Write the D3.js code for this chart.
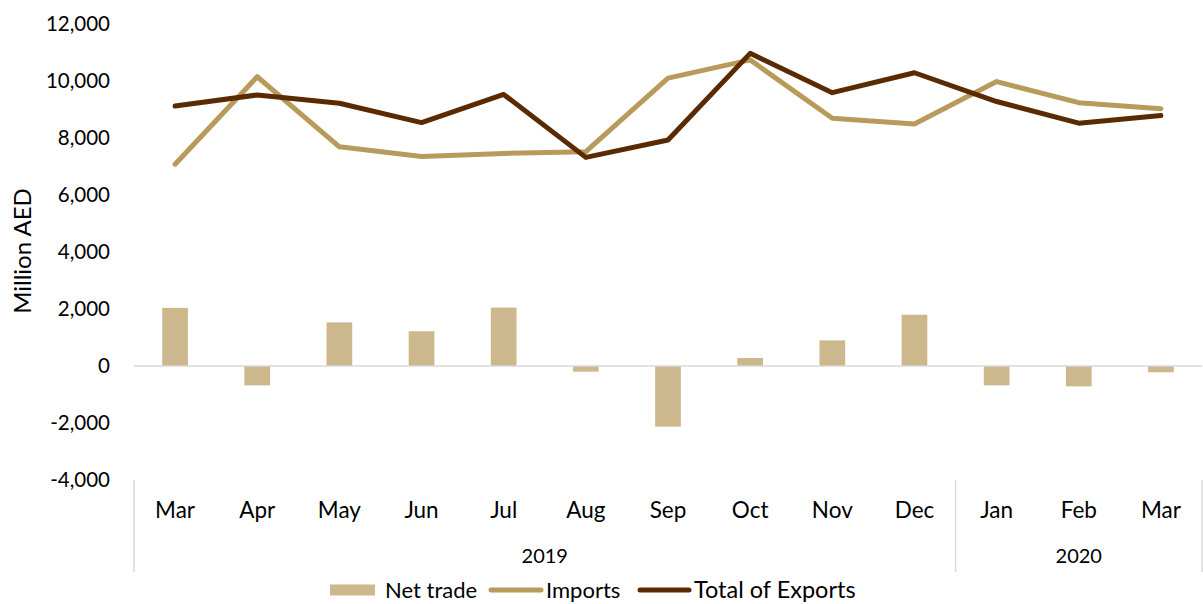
<!DOCTYPE html>
<html>
<head>
<meta charset="utf-8">
<script src="https://cdn.jsdelivr.net/npm/d3@7"></script>
<style>
  body { margin: 0; background: #fff; }
  text { font-family: Lato, "Noto Sans", sans-serif; fill: #000; }
</style>
</head>
<body>
<div id="chart"></div>
<script>
// months shown on the category axis (two levels: month, year)
const months = ["Mar", "Apr", "May", "Jun", "Jul", "Aug", "Sep", "Oct", "Nov", "Dec", "Jan", "Feb", "Mar"];
const years = [
  { label: "2019", from: 0, to: 9 },
  { label: "2020", from: 10, to: 12 },
];

// values in million AED
const netTrade = [2040, -680, 1530, 1220, 2050, -200, -2130, 280, 900, 1800, -680, -715, -220];
const imports = [7080, 10150, 7690, 7350, 7460, 7520, 10100, 10740, 8690, 8490, 9980, 9240, 9030];
const exportsTotal = [9120, 9510, 9220, 8540, 9530, 7320, 7930, 10970, 9590, 10290, 9280, 8520, 8790];

const yTicks = [-4000, -2000, 0, 2000, 4000, 6000, 8000, 10000, 12000];

const width = 1203, height = 604;
const margin = { top: 24, right: 1, bottom: 124, left: 134 };

const colors = { net: "#cdb88e", imports: "#b89a5a", exports: "#5a2a02", grid: "#d9d9d9" };

// hyphen minus like the original, not the unicode minus
const fmt = d3.formatLocale({ decimal: ".", thousands: ",", grouping: [3], currency: ["", ""], minus: "-" }).format(",");

const svg = d3.select("#chart").append("svg")
  .attr("width", width)
  .attr("height", height);

const x = d3.scaleBand()
  .domain(d3.range(months.length))
  .range([margin.left, width - margin.right])
  .padding(0);

const y = d3.scaleLinear()
  .domain([-4000, 12000])
  .range([height - margin.bottom, margin.top]);

// y tick labels (no axis line, no gridlines)
svg.append("g")
  .selectAll("text")
  .data(yTicks)
  .join("text")
  .attr("x", 110)
  .attr("y", (d) => y(d))
  .attr("dy", "0.35em")
  .attr("text-anchor", "end")
  .attr("font-size", 20.5)
  .text((d) => fmt(d));

// y title
svg.append("text")
  .attr("transform", `translate(31,${251}) rotate(-90)`)
  .attr("text-anchor", "middle")
  .attr("font-size", 24)
  .text("Million AED");

// bars
const barW = x.bandwidth() * 0.313;
svg.append("g")
  .selectAll("rect")
  .data(netTrade)
  .join("rect")
  .attr("x", (d, i) => x(i) + (x.bandwidth() - barW) / 2)
  .attr("y", (d) => y(Math.max(0, d)))
  .attr("width", barW)
  .attr("height", (d) => Math.abs(y(d) - y(0)))
  .attr("fill", colors.net);

// zero line
svg.append("line")
  .attr("x1", margin.left)
  .attr("x2", width - margin.right)
  .attr("y1", y(0))
  .attr("y2", y(0))
  .attr("stroke", colors.grid)
  .attr("stroke-width", 1.5);

// lines
const line = d3.line()
  .x((d, i) => x(i) + x.bandwidth() / 2)
  .y((d) => y(d));

svg.append("path")
  .datum(imports)
  .attr("d", line)
  .attr("fill", "none")
  .attr("stroke", colors.imports)
  .attr("stroke-width", 5)
  .attr("stroke-linecap", "round")
  .attr("stroke-linejoin", "round");

svg.append("path")
  .datum(exportsTotal)
  .attr("d", line)
  .attr("fill", "none")
  .attr("stroke", colors.exports)
  .attr("stroke-width", 5)
  .attr("stroke-linecap", "round")
  .attr("stroke-linejoin", "round");

// category axis: month labels
const axisTop = y(-4000);
svg.append("g")
  .selectAll("text")
  .data(months)
  .join("text")
  .attr("x", (d, i) => x(i) + x.bandwidth() / 2)
  .attr("y", axisTop + 30)
  .attr("dy", "0.35em")
  .attr("text-anchor", "middle")
  .attr("font-size", 22.5)
  .text((d) => d);

// year group labels and separators
const gYears = svg.append("g");
gYears.selectAll("text")
  .data(years)
  .join("text")
  .attr("x", (d) => (x(d.from) + x(d.to) + x.bandwidth()) / 2)
  .attr("y", axisTop + 76)
  .attr("dy", "0.35em")
  .attr("text-anchor", "middle")
  .attr("font-size", 20)
  .text((d) => d.label);

const seps = [x(0)].concat(years.map((d) => x(d.to) + x.bandwidth()));
gYears.selectAll("line")
  .data(seps)
  .join("line")
  .attr("x1", (d) => d)
  .attr("x2", (d) => d)
  .attr("y1", axisTop)
  .attr("y2", axisTop + 92)
  .attr("stroke", colors.grid)
  .attr("stroke-width", 1.5);

// legend
const legendY = 590;
const legend = svg.append("g");
legend.append("rect")
  .attr("x", 330).attr("y", legendY - 5.5)
  .attr("width", 45).attr("height", 11)
  .attr("fill", colors.net);
legend.append("text")
  .attr("x", 385).attr("y", legendY).attr("dy", "0.35em")
  .attr("font-size", 22).text("Net trade");

legend.append("line")
  .attr("x1", 491).attr("x2", 541).attr("y1", legendY).attr("y2", legendY)
  .attr("stroke", colors.imports).attr("stroke-width", 5).attr("stroke-linecap", "round");
legend.append("text")
  .attr("x", 546).attr("y", legendY).attr("dy", "0.35em")
  .attr("font-size", 22).text("Imports");

legend.append("line")
  .attr("x1", 640).attr("x2", 689).attr("y1", legendY).attr("y2", legendY)
  .attr("stroke", colors.exports).attr("stroke-width", 5).attr("stroke-linecap", "round");
legend.append("text")
  .attr("x", 694).attr("y", legendY).attr("dy", "0.35em")
  .attr("font-size", 23.5).text("Total of Exports");
</script>
</body>
</html>
